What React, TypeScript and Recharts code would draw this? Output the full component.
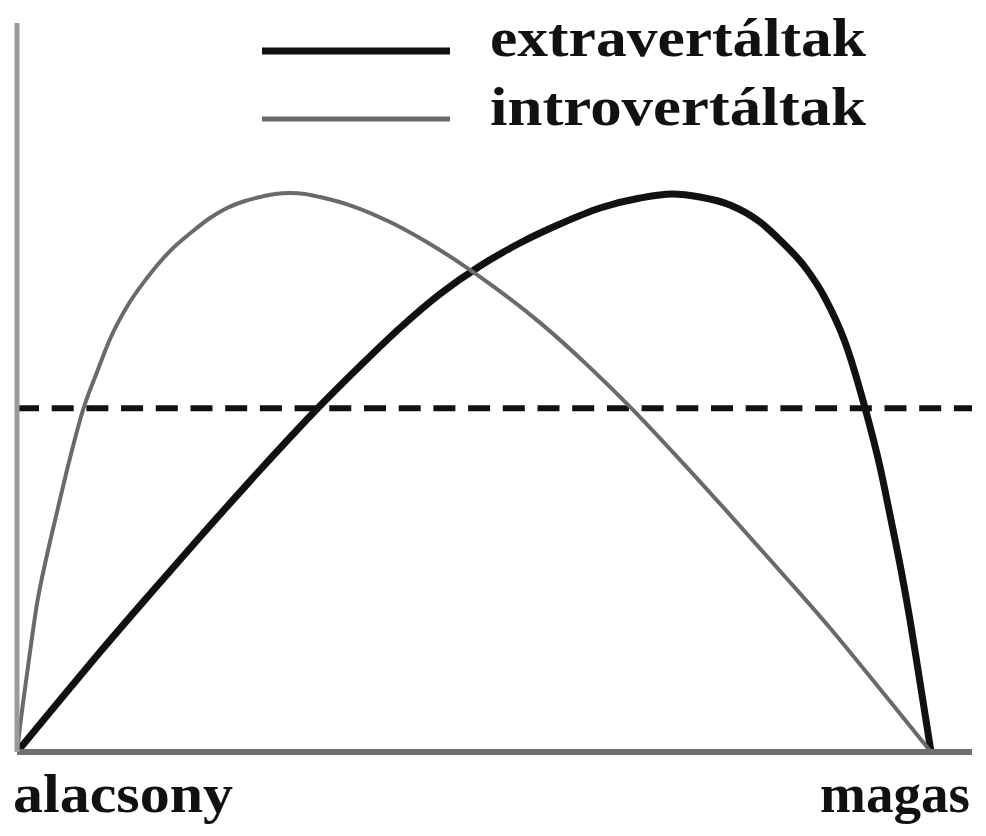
import React from 'react';
import { LineChart, Line, XAxis, YAxis, ReferenceLine, Legend } from 'recharts';

// Horizontal scale position (0 = alacsony, 100 = magas), vertical level (peak ≈ 100)
const extraX = [0, 4.5, 8.69, 13.93, 19.16, 25.45, 31.41, 35.92, 40.1, 44.29, 48.48, 52.67, 56.86, 61.05, 65.24, 68.59, 71.52, 74.66, 77.8, 80.21, 82.51, 84.61, 86.7, 88.8, 90.37, 91.52, 92.57, 93.51, 94.35, 95.18, 95.71];
const extraY = [0, 9.32, 17.92, 28.32, 38.53, 50.54, 61.47, 69.18, 75.99, 82.08, 87.1, 91.22, 94.62, 97.49, 99.28, 100.0, 99.46, 98.03, 94.98, 91.22, 86.92, 81.36, 73.48, 61.65, 51.08, 41.58, 32.62, 23.66, 14.7, 5.73, 0];

const introX = [0, 0.31, 0.63, 1.36, 2.09, 3.14, 4.19, 5.55, 6.91, 8.38, 9.74, 11.62, 13.61, 16.02, 18.43, 20.21, 21.99, 23.87, 25.45, 27.02, 28.59, 30.16, 31.73, 35.39, 39.06, 42.72, 46.39, 50.05, 54.76, 60.0, 64.19, 69.42, 74.66, 79.9, 85.13, 90.37, 95.71];
const introY = [0, 4.48, 8.78, 17.92, 26.52, 35.3, 43.01, 52.69, 61.29, 68.1, 74.01, 80.11, 84.95, 89.78, 93.37, 95.7, 97.49, 98.75, 99.46, 100.0, 100.18, 100.0, 99.46, 97.67, 94.98, 91.58, 87.63, 83.24, 76.95, 68.89, 61.86, 52.37, 42.51, 32.44, 22.22, 11.29, 0];

const thresholdLevel = 61.6;
const seriesNames = ['extravertáltak', 'introvertáltak'];
const axisTicks = [0, 100];
const axisTickLabels = ['alacsony', 'magas'];

const extraData = extraX.map((x, i) => ({ x, y: extraY[i] }));
const introData = introX.map((x, i) => ({ x, y: introY[i] }));

const FONT = '"Liberation Serif", "DejaVu Serif", serif';

const XTick = (props: any) => {
  const { x, y, payload } = props;
  const idx = axisTicks.indexOf(payload.value);
  const label = axisTickLabels[idx];
  const isFirst = idx === 0;
  return (
    <text
      x={isFirst ? x - 4 : x - 2}
      y={y + 52}
      textAnchor={isFirst ? 'start' : 'end'}
      fontFamily={FONT}
      fontWeight="bold"
      fontSize={55}
      fill="#111"
      textLength={isFirst ? 220 : 150}
      lengthAdjust="spacingAndGlyphs"
    >
      {label}
    </text>
  );
};

const renderLegend = (props: any) => {
  const payload = props.payload || [];
  return (
    <svg width={986} height={140} style={{ display: 'block' }}>
      {payload.map((p: any, i: number) => {
        const lineY = i === 0 ? 51 : 119;
        const textY = i === 0 ? 56 : 125;
        return (
          <g key={i}>
            <line x1={262} x2={450} y1={lineY} y2={lineY} stroke={p.color} strokeWidth={i === 0 ? 7 : 5} />
            <text
              x={490}
              y={textY}
              fontFamily={FONT}
              fontWeight="bold"
              fontSize={55}
              fill="#111"
              textLength={376}
              lengthAdjust="spacingAndGlyphs"
            >
              {p.value}
            </text>
          </g>
        );
      })}
    </svg>
  );
};

export default function App() {
  return (
    <div style={{ position: 'absolute', left: 0, top: 0, width: 986, height: 836, background: '#fff' }}>
      <LineChart width={986} height={836} margin={{ top: 23, right: 14, bottom: 0, left: 16 }}>
        <XAxis
          type="number"
          dataKey="x"
          domain={[0, 100]}
          ticks={axisTicks}
          allowDataOverflow
          height={84}
          tickLine={false}
          axisLine={{ stroke: '#6f6f6f', strokeWidth: 6 }}
          tick={<XTick />}
          interval={0}
        />
        <YAxis
          type="number"
          domain={[0, 130.65]}
          width={1}
          tick={false}
          tickLine={false}
          axisLine={{ stroke: '#9a9a9a', strokeWidth: 5 }}
        />
        <ReferenceLine y={thresholdLevel} stroke="#111" strokeWidth={6} strokeDasharray="22 12.7" />
        <Line
          data={extraData}
          dataKey="y"
          name={seriesNames[0]}
          type="monotone"
          stroke="#111"
          strokeWidth={7}
          dot={false}
          activeDot={false}
          isAnimationActive={false}
        />
        <Line
          data={introData}
          dataKey="y"
          name={seriesNames[1]}
          type="monotone"
          stroke="#6a6a6a"
          strokeWidth={4}
          dot={false}
          activeDot={false}
          isAnimationActive={false}
        />
        <Legend
          layout="vertical"
          align="center"
          verticalAlign="middle"
          content={renderLegend}
          wrapperStyle={{ position: 'absolute', top: 0, left: 0, width: 986, height: 140, margin: 0, padding: 0 }}
        />
      </LineChart>
    </div>
  );
}
